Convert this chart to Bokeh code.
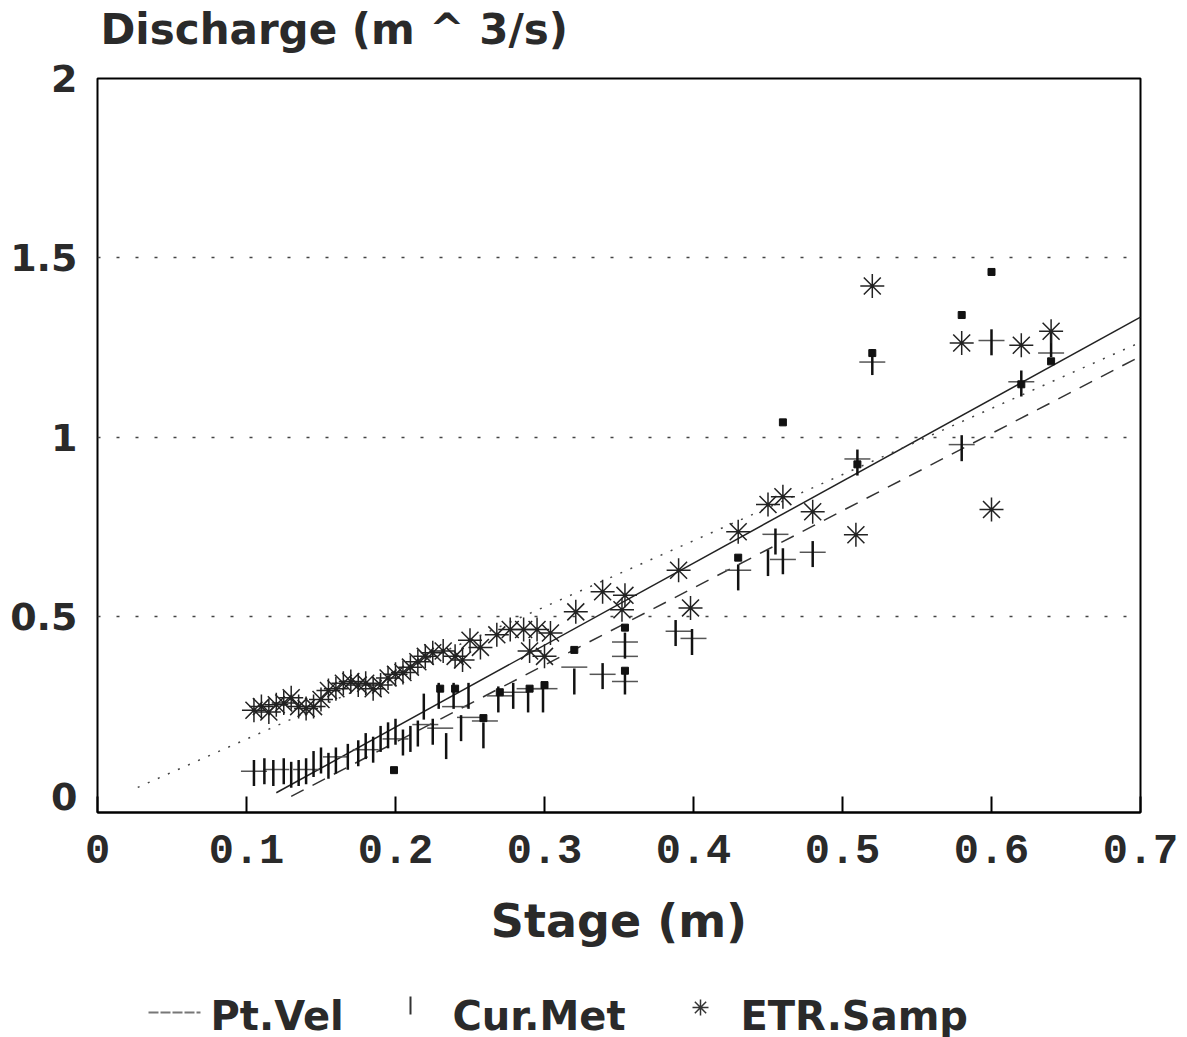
import math
from bokeh.plotting import figure
from bokeh.layouts import column
from bokeh.models import FixedTicker, Range1d
from bokeh.core.properties import value
from bokeh.embed import file_html
from bokeh.resources import INLINE

# ---- data ----
etr_x = [0.105, 0.110, 0.115, 0.120, 0.125, 0.130, 0.135, 0.140, 0.145, 0.150,
         0.155, 0.160, 0.165, 0.170, 0.175, 0.180, 0.185, 0.190, 0.195, 0.200,
         0.205, 0.210, 0.215, 0.220, 0.225, 0.232, 0.240, 0.245, 0.250, 0.257,
         0.268, 0.277, 0.286, 0.290, 0.295, 0.300, 0.304,
         0.321, 0.339, 0.354, 0.352, 0.390, 0.398, 0.430, 0.450, 0.460, 0.480,
         0.509, 0.520, 0.580, 0.600, 0.620, 0.640]
etr_y = [0.240, 0.250, 0.235, 0.255, 0.260, 0.275, 0.250, 0.245, 0.250, 0.270,
         0.295, 0.300, 0.315, 0.320, 0.310, 0.315, 0.300, 0.310, 0.330, 0.340,
         0.345, 0.360, 0.375, 0.390, 0.400, 0.405, 0.390, 0.380, 0.435, 0.415,
         0.450, 0.465, 0.465, 0.405, 0.465, 0.390, 0.455,
         0.514, 0.570, 0.560, 0.520, 0.630, 0.525, 0.737, 0.813, 0.835, 0.793,
         0.729, 1.422, 1.263, 0.799, 1.257, 1.296]

cm_x = [0.105, 0.112, 0.118, 0.125, 0.130, 0.135, 0.140, 0.145, 0.150, 0.155,
        0.160, 0.168, 0.175, 0.180, 0.185, 0.190, 0.195, 0.200, 0.205, 0.210,
        0.215, 0.219, 0.225, 0.229, 0.234, 0.239, 0.244, 0.249, 0.259, 0.269,
        0.279, 0.289, 0.299, 0.320, 0.339, 0.354, 0.354, 0.388, 0.399, 0.430,
        0.450, 0.455, 0.460, 0.480, 0.510, 0.520, 0.580, 0.600, 0.620, 0.640]
cm_y = [0.065, 0.070, 0.065, 0.070, 0.060, 0.065, 0.070, 0.090, 0.100, 0.085,
        0.100, 0.110, 0.120, 0.140, 0.130, 0.160, 0.170, 0.180, 0.150, 0.160,
        0.175, 0.250, 0.180, 0.280, 0.140, 0.280, 0.190, 0.280, 0.170, 0.270,
        0.280, 0.270, 0.270, 0.320, 0.335, 0.420, 0.320, 0.455, 0.430, 0.610,
        0.650, 0.710, 0.655, 0.675, 0.930, 1.210, 0.970, 1.265, 1.150, 1.260]

pv_x = [0.105, 0.120, 0.140, 0.160, 0.180, 0.200, 0.220, 0.230, 0.240, 0.250,
        0.260, 0.270, 0.280, 0.290, 0.300, 0.320, 0.339, 0.354, 0.354, 0.354,
        0.390, 0.400, 0.430, 0.455, 0.460, 0.480, 0.510, 0.520, 0.580, 0.600,
        0.620, 0.640]
pv_y = [0.070, 0.075, 0.075, 0.110, 0.130, 0.160, 0.200, 0.190, 0.250, 0.220,
        0.210, 0.280, 0.290, 0.300, 0.300, 0.360, 0.340, 0.390, 0.320, 0.430,
        0.460, 0.440, 0.630, 0.730, 0.660, 0.680, 0.940, 1.210, 0.980, 1.270,
        1.155, 1.235]

sq_x = [0.199, 0.259, 0.320, 0.354, 0.354, 0.430, 0.460, 0.520, 0.580, 0.600,
        0.620, 0.640, 0.510, 0.240, 0.230, 0.270, 0.290, 0.300]
sq_y = [0.073, 0.218, 0.408, 0.470, 0.350, 0.665, 1.042, 1.235, 1.341, 1.461,
        1.148, 1.212, 0.925, 0.300, 0.300, 0.290, 0.300, 0.310]

# fitted lines (end points)
solid_x = [0.12, 0.70]
solid_y = [0.01, 1.335]
dash_x = [0.13, 0.70]
dash_y = [0.00, 1.226]
dot_x = [0.027, 0.70]
dot_y = [0.025, 1.265]

x_ticks = [0.0, 0.1, 0.2, 0.3, 0.4, 0.5, 0.6, 0.7]
x_labels = ["0", "0.1", "0.2", "0.3", "0.4", "0.5", "0.6", "0.7"]
y_ticks = [0.0, 0.5, 1.0, 1.5, 2.0]
y_labels = ["0", "0.5", "1", "1.5", "2"]

title_text = ["Discharge (m ^ 3/s)"]
legend_labels = ["Pt.Vel", "Cur.Met", "ETR.Samp"]

TXT = "#2a2a2a"


def strip(height):
    f = figure(width=1187, height=height, x_range=Range1d(97, 1140), y_range=Range1d(height, 0),
               output_backend="svg", toolbar_location=None,
               min_border_left=97, min_border_right=47, min_border_top=0, min_border_bottom=0,
               background_fill_color="white", border_fill_color="white")
    f.axis.visible = False
    f.grid.visible = False
    f.outline_line_color = None
    return f


# ---- title strip ----
tt = strip(56)
tt.text(x=[100], y=[29], text=title_text, text_font=value("DejaVu Sans"),
        text_font_style="bold", text_font_size="42px", text_color=TXT,
        text_baseline="middle", text_align="left")

# ---- main chart ----
p = figure(width=1187, height=909, x_range=Range1d(0, 0.7), y_range=Range1d(-0.045, 2.0),
           output_backend="svg", toolbar_location=None,
           min_border_left=97, min_border_right=47, min_border_top=22, min_border_bottom=153,
           background_fill_color="white", border_fill_color="white")

p.outline_line_color = "black"
p.outline_line_width = 2

p.xgrid.visible = False
p.ygrid.ticker = FixedTicker(ticks=[0.5, 1.0, 1.5])
p.ygrid.grid_line_color = "#444444"
p.ygrid.grid_line_dash = "3 16"
p.ygrid.grid_line_width = 1.5

xa = p.xaxis[0]
xa.ticker = FixedTicker(ticks=x_ticks)
xa.major_label_overrides = {t: s for t, s in zip(x_ticks, x_labels)}
xa.major_tick_in = 16
xa.major_tick_out = 0
xa.major_tick_line_width = 2
xa.minor_tick_line_color = None
xa.axis_line_width = 2
xa.major_label_text_font = "Liberation Mono"
xa.major_label_text_font_style = "bold"
xa.major_label_text_font_size = "42px"
xa.major_label_text_color = TXT
xa.major_label_standoff = 22
xa.axis_label = "Stage (m)"
xa.axis_label_text_font = "DejaVu Sans"
xa.axis_label_text_font_size = "46px"
xa.axis_label_text_font_style = "bold"
xa.axis_label_text_color = TXT
xa.axis_label_standoff = 28

ya = p.yaxis[0]
ya.ticker = FixedTicker(ticks=y_ticks)
ya.major_label_overrides = {t: s for t, s in zip(y_ticks, y_labels)}
ya.major_tick_line_color = None
ya.minor_tick_line_color = None
ya.axis_line_color = None
ya.major_label_text_font = "DejaVu Sans"
ya.major_label_text_font_style = "bold"
ya.major_label_text_font_size = "38px"
ya.major_label_text_color = TXT
ya.major_label_standoff = 14

# lines
p.line(solid_x, solid_y, line_color="#222222", line_width=1.5)
p.line(dash_x, dash_y, line_color="#333333", line_width=1.5, line_dash="14 10")
p.line(dot_x, dot_y, line_color="#444444", line_width=1.5, line_dash="2 9")

# markers
p.scatter(pv_x, pv_y, marker="dash", size=26, line_color="#555555", line_width=1.5)
p.scatter(cm_x, cm_y, marker="dash", angle=math.pi / 2, size=26,
          line_color="#111111", line_width=2.5)
p.scatter(sq_x, sq_y, marker="square", size=7, fill_color="#111111", line_color="#111111")
p.scatter(etr_x, etr_y, marker="asterisk", size=24, line_color="#222222", line_width=1.5)

# ---- legend strip ----
lg = strip(72)
lg.line([148, 200], [47, 47], line_color="#777777", line_width=2, line_dash="10 2")
lg.scatter([410], [40], marker="dash", angle=math.pi / 2, size=18,
           line_color="#333333", line_width=2)
lg.scatter([700], [42], marker="asterisk", size=16, line_color="#333333", line_width=1.5)
lg.text(x=[210, 452, 740], y=[50, 50, 50], text=legend_labels,
        text_font=value("DejaVu Sans"), text_font_style="bold",
        text_font_size="40px", text_color=TXT, text_baseline="middle", text_align="left")

layout = column(tt, p, lg, spacing=0)
open("out.html", "w").write(file_html(layout, INLINE))
